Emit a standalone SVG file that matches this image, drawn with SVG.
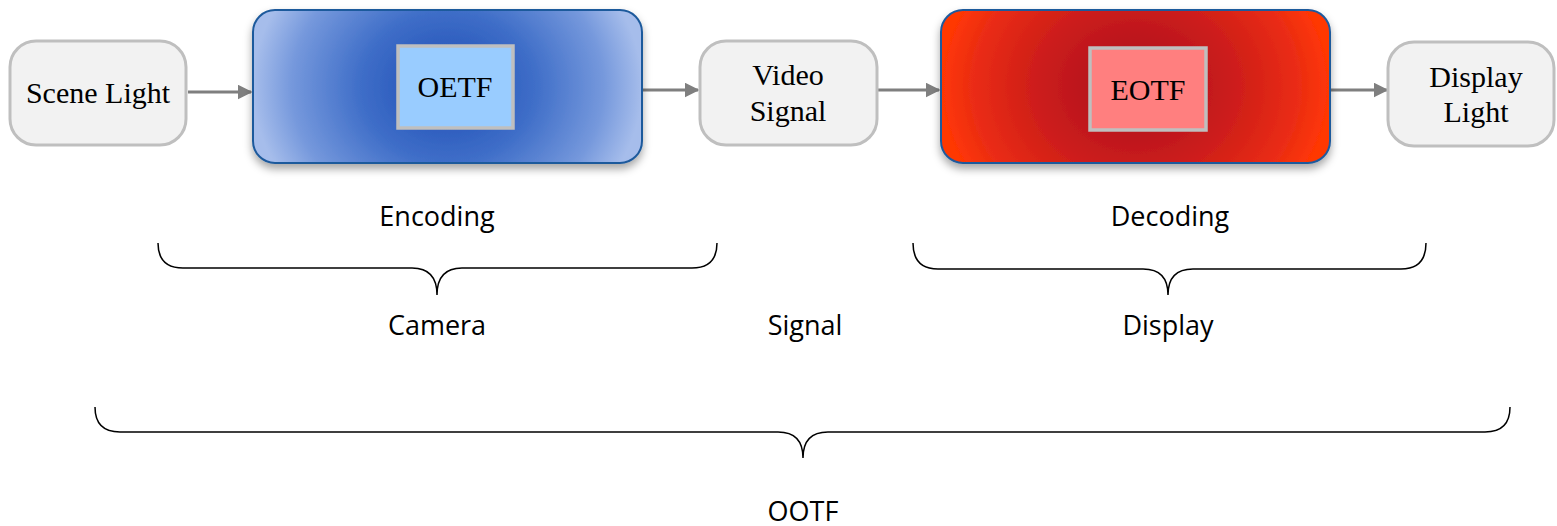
<svg xmlns="http://www.w3.org/2000/svg" width="1557" height="526" viewBox="0 0 1557 526">
  <defs>
    <style>
      .term { fill: #f2f2f2; stroke: #bfbfbf; stroke-width: 3; }
      .serif { font-family: "Liberation Serif", "DejaVu Serif", serif; font-size: 30px; fill: #000; text-anchor: middle; }
      .sans { font-family: "Open Sans", "Noto Sans", sans-serif; font-size: 27px; fill: #000; text-anchor: middle; }
      .conn { stroke: #7f7f7f; stroke-width: 3; fill: none; marker-end: url(#arrow); }
      .brace { stroke: #000; stroke-width: 1.5; fill: none; }
      .inner { stroke: #bfbfbf; stroke-width: 3.5; }
    </style>
    <marker id="arrow" viewBox="0 0 10 10" refX="9" refY="5" markerWidth="5" markerHeight="5" orient="auto" markerUnits="strokeWidth">
      <path d="M0,0 L10,5 L0,10 z" fill="#7f7f7f"/>
    </marker>
    <radialGradient id="blueFill" cx="0.5" cy="0.5" r="0.5" gradientTransform="translate(0.5,0.5) scale(1,2.2) translate(-0.5,-0.5)">
      <stop offset="0" stop-color="#1b4cb4"/>
      <stop offset="0.45" stop-color="#3f6ec8"/>
      <stop offset="0.8" stop-color="#7598dc"/>
      <stop offset="1" stop-color="#a6bdeb"/>
    </radialGradient>
    <radialGradient id="redFill" cx="0.5" cy="0.5" r="0.5" gradientTransform="translate(0.5,0.5) scale(1,2.2) translate(-0.5,-0.5)">
      <stop offset="0" stop-color="#a80d1f"/>
      <stop offset="0.5" stop-color="#cc1d1b"/>
      <stop offset="0.85" stop-color="#ec2d12"/>
      <stop offset="1" stop-color="#ff3705"/>
    </radialGradient>
    <filter id="shadow" x="-10%" y="-10%" width="120%" height="130%">
      <feDropShadow dx="0" dy="5" stdDeviation="4" flood-color="#000" flood-opacity="0.35"/>
    </filter>
  </defs>

  <!-- connectors -->
  <g id="connectors">
    <line class="conn" x1="188" y1="92" x2="251" y2="92"/>
    <line class="conn" x1="637" y1="90" x2="698" y2="90"/>
    <line class="conn" x1="877" y1="90" x2="939" y2="90"/>
    <line class="conn" x1="1326" y1="90" x2="1387" y2="90"/>
  </g>

  <g id="scene-light">
    <rect class="term" x="10" y="41" width="176" height="104" rx="26"/>
    <text class="serif" x="98" y="103">Scene Light</text>
  </g>

  <g id="encoder">
    <rect x="253" y="10" width="389" height="153" rx="22" fill="url(#blueFill)" stroke="#1f5a9c" stroke-width="2" filter="url(#shadow)"/>
    <rect class="inner" x="398" y="46" width="115" height="82" fill="#99ccff"/>
    <text class="serif" x="455" y="97">OETF</text>
  </g>

  <g id="video-signal">
    <rect class="term" x="700" y="41" width="177" height="104" rx="26"/>
    <text class="serif" x="788" y="85">Video</text>
    <text class="serif" x="788" y="121">Signal</text>
  </g>

  <g id="decoder">
    <rect x="941" y="10" width="389" height="153" rx="22" fill="url(#redFill)" stroke="#1f5a9c" stroke-width="2" filter="url(#shadow)"/>
    <rect class="inner" x="1090" y="48" width="116" height="82" fill="#ff7f7f"/>
    <text class="serif" x="1148" y="100">EOTF</text>
  </g>

  <g id="display-light">
    <rect class="term" x="1388" y="42" width="166" height="104" rx="26"/>
    <text class="serif" x="1476" y="87">Display</text>
    <text class="serif" x="1476" y="122">Light</text>
  </g>

  <!-- braces and their labels -->
  <g id="encoding-brace">
    <text class="sans" x="437" y="226">Encoding</text>
    <path class="brace" d="M158,243 Q158,268 183,268 L412,268 Q437,268 437,295 Q437,268 462,268 L692,268 Q717,268 717,243"/>
    <text class="sans" x="437" y="335">Camera</text>
  </g>

  <g id="signal-label">
    <text class="sans" x="805" y="335">Signal</text>
  </g>

  <g id="decoding-brace">
    <text class="sans" x="1170" y="226">Decoding</text>
    <path class="brace" d="M913,243 Q913,269 938,269 L1143,269 Q1168,269 1168,295 Q1168,269 1193,269 L1401,269 Q1426,269 1426,243"/>
    <text class="sans" x="1168" y="335">Display</text>
  </g>

  <g id="ootf-brace">
    <path class="brace" d="M95,407 Q95,432 120,432 L778,432 Q803,432 803,458 Q803,432 828,432 L1485,432 Q1510,432 1510,407"/>
    <text class="sans" x="803" y="521">OOTF</text>
  </g>
</svg>
